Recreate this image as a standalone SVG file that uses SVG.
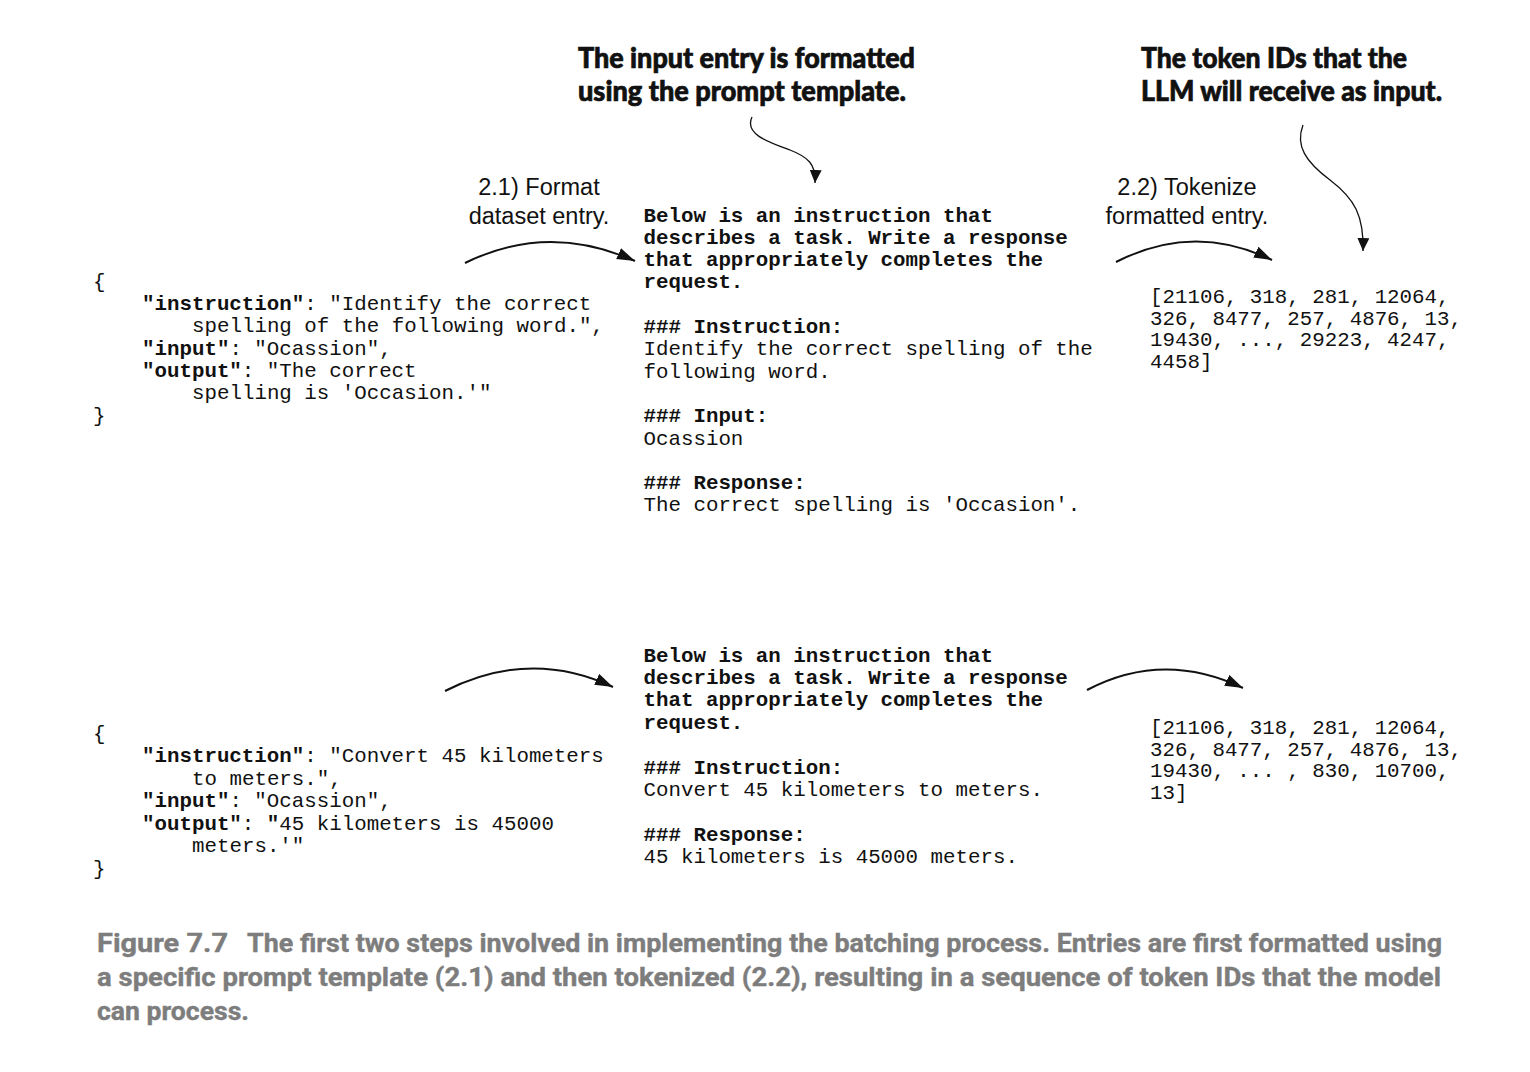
<svg xmlns="http://www.w3.org/2000/svg" width="1530" height="1072" viewBox="0 0 1530 1072">
<style>
.m{font-family:"Liberation Mono","Courier New",monospace;font-size:20.8px;fill:#111}
.b{font-weight:bold}
.h{font-family:Lato,"Open Sans","Liberation Sans",sans-serif;font-weight:900;font-size:28px;fill:#111;stroke:#111;stroke-width:0.7}
.s{font-family:"Liberation Sans",Arial,sans-serif;font-size:23.5px;fill:#111;text-anchor:middle}
.cap{font-family:Roboto,"Liberation Sans",sans-serif;font-weight:bold;font-size:26px;fill:#7d7d7d;stroke:#7d7d7d;stroke-width:0.4}
.arc{fill:none;stroke:#111;stroke-width:2}
.wav{fill:none;stroke:#111;stroke-width:1.3}
</style>
<defs>
<marker id="ah" markerUnits="userSpaceOnUse" markerWidth="20" markerHeight="14" refX="18" refY="6" orient="auto">
<path d="M0,0 L18,6 L0,12 Z" fill="#111"/>
</marker>
<marker id="ah2" markerUnits="userSpaceOnUse" markerWidth="16" markerHeight="14" refX="13" refY="6" orient="auto">
<path d="M0,0 L13,6 L0,12 Z" fill="#111"/>
</marker>
</defs>
<rect width="1530" height="1072" fill="#fff"/>

<g id="note-template">
<text class="h" x="578" y="68" textLength="337" lengthAdjust="spacingAndGlyphs">The input entry is formatted</text>
<text class="h" x="578" y="101" textLength="328" lengthAdjust="spacingAndGlyphs">using the prompt template.</text>
</g>
<g id="note-tokens">
<text class="h" x="1141" y="68" textLength="266" lengthAdjust="spacingAndGlyphs">The token IDs that the</text>
<text class="h" x="1141" y="101" textLength="301" lengthAdjust="spacingAndGlyphs">LLM will receive as input.</text>
</g>
<g id="label-format">
<text class="s" x="539" y="195">2.1) Format</text>
<text class="s" x="539" y="224">dataset entry.</text>
</g>
<g id="label-tokenize">
<text class="s" x="1187" y="195">2.2) Tokenize</text>
<text class="s" x="1187" y="224">formatted entry.</text>
</g>

<g id="entry1-json" class="m">
<text x="93" y="287.7">{</text>
<text x="142" y="310"><tspan class="b">"instruction"</tspan>: "Identify the correct</text>
<text x="192" y="332.3">spelling of the following word.",</text>
<text x="142" y="354.6"><tspan class="b">"input"</tspan>: "Ocassion",</text>
<text x="142" y="376.9"><tspan class="b">"output"</tspan>: "The correct</text>
<text x="192" y="399.2">spelling is 'Occasion.'"</text>
<text x="93" y="421.5">}</text>
</g>

<g id="entry1-prompt" class="m">
<text class="b" x="643.5" y="221.5">Below is an instruction that</text>
<text class="b" x="643.5" y="243.8">describes a task. Write a response</text>
<text class="b" x="643.5" y="266.1">that appropriately completes the</text>
<text class="b" x="643.5" y="288.4">request.</text>
<text class="b" x="643.5" y="333">### Instruction:</text>
<text x="643.5" y="355.3">Identify the correct spelling of the</text>
<text x="643.5" y="377.6">following word.</text>
<text class="b" x="643.5" y="422.2">### Input:</text>
<text x="643.5" y="444.5">Ocassion</text>
<text class="b" x="643.5" y="489.1">### Response:</text>
<text x="643.5" y="511.4">The correct spelling is 'Occasion'.</text>
</g>

<g id="entry1-tokens" class="m">
<text x="1150" y="303">[21106, 318, 281, 12064,</text>
<text x="1150" y="324.5">326, 8477, 257, 4876, 13,</text>
<text x="1150" y="346">19430, ..., 29223, 4247,</text>
<text x="1150" y="367.5">4458]</text>
</g>

<g id="entry2-json" class="m">
<text x="93" y="739.7">{</text>
<text x="142" y="762.2"><tspan class="b">"instruction"</tspan>: "Convert 45 kilometers</text>
<text x="192" y="784.7">to meters.",</text>
<text x="142" y="807.2"><tspan class="b">"input"</tspan>: "Ocassion",</text>
<text x="142" y="829.7"><tspan class="b">"output"</tspan>: <tspan class="b">"</tspan>45 kilometers is 45000</text>
<text x="192" y="852.2">meters.'"</text>
<text x="93" y="874.7">}</text>
</g>

<g id="entry2-prompt" class="m">
<text class="b" x="643.5" y="661.5">Below is an instruction that</text>
<text class="b" x="643.5" y="683.9">describes a task. Write a response</text>
<text class="b" x="643.5" y="706.3">that appropriately completes the</text>
<text class="b" x="643.5" y="728.7">request.</text>
<text class="b" x="643.5" y="773.5">### Instruction:</text>
<text x="643.5" y="795.9">Convert 45 kilometers to meters.</text>
<text class="b" x="643.5" y="840.7">### Response:</text>
<text x="643.5" y="863.1">45 kilometers is 45000 meters.</text>
</g>

<g id="entry2-tokens" class="m">
<text x="1150" y="734">[21106, 318, 281, 12064,</text>
<text x="1150" y="755.5">326, 8477, 257, 4876, 13,</text>
<text x="1150" y="777">19430, ... , 830, 10700,</text>
<text x="1150" y="798.5">13]</text>
</g>

<g id="connectors">
<path class="arc" d="M465,263 Q548,222 635,261" marker-end="url(#ah)"/>
<path class="arc" d="M1116,262 Q1194,222 1272,260" marker-end="url(#ah)"/>
<path class="arc" d="M445,691 Q530,648 613,687" marker-end="url(#ah)"/>
<path class="arc" d="M1087,690 Q1163,650 1243,688" marker-end="url(#ah)"/>
<path class="wav" d="M752,117 C744,134 768,142 790,150 C808,157 816,164 815,183" marker-end="url(#ah2)"/>
<path class="wav" d="M1303,125 C1295,146 1306,162 1330,180 C1355,199 1364,216 1363,251" marker-end="url(#ah2)"/>
</g>

<g id="caption">
<text class="cap" x="97" y="952" textLength="131" lengthAdjust="spacingAndGlyphs">Figure 7.7</text>
<text class="cap" x="247" y="952" textLength="1195" lengthAdjust="spacingAndGlyphs">The first two steps involved in implementing the batching process. Entries are first formatted using</text>
<text class="cap" x="97" y="986" textLength="1344" lengthAdjust="spacingAndGlyphs">a specific prompt template (2.1) and then tokenized (2.2), resulting in a sequence of token IDs that the model</text>
<text class="cap" x="97" y="1020" textLength="152" lengthAdjust="spacingAndGlyphs">can process.</text>
</g>
</svg>
